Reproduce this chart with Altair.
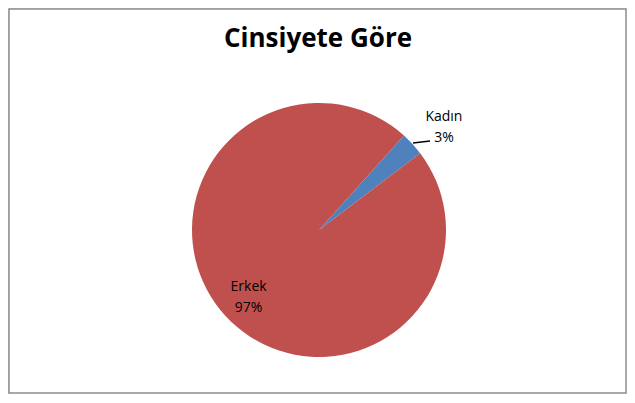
import math
import altair as alt
import pandas as pd

# Data
categories = ["Kadın", "Erkek"]
percents = [3, 97]
colors = ["#4F81BD", "#C0504D"]
title_text = "Cinsiyete Göre"

df = pd.DataFrame({"cat": categories, "pct": percents, "ord": [0, 1]})

W, H = 619, 386
CX, CY = 311, 222
R = 127
start = math.radians(42)
theta_scale = alt.Scale(domain=[0, 100], range=[start, start + 2 * math.pi])

pie = alt.Chart(df).mark_arc(radius=R, stroke=None).encode(
    theta=alt.Theta("pct:Q", stack=True, scale=theta_scale),
    order=alt.Order("ord:Q"),
    color=alt.Color("cat:N", scale=alt.Scale(domain=categories, range=colors), legend=None),
    x=alt.value(CX), y=alt.value(CY),
)

lab_base = alt.Chart(df).transform_window(
    cum="sum(pct)", sort=[alt.SortField("ord")]
).transform_calculate(
    mid="datum.cum - datum.pct / 2",
    label="datum.cat + '\\n' + datum.pct + '%'",
)

def label_layer(cat, radius, dx, dy):
    return lab_base.transform_filter(alt.datum.cat == cat).mark_text(
        radius=radius, dx=dx, dy=dy, font="Open Sans", fontSize=14,
        lineBreak="\n", lineHeight=21, color="#000000",
        baseline="alphabetic", align="center",
    ).encode(
        theta=alt.Theta("mid:Q", stack=False, scale=theta_scale),
        text="label:N", x=alt.value(CX), y=alt.value(CY),
    )

lab_k = label_layer("Kadın", 150, 14.5, -7.5)
lab_e = label_layer("Erkek", 97, 1, -4.5)

leader = alt.Chart(pd.DataFrame({"a": [0]})).mark_rule(color="#000000", strokeWidth=1.3).encode(
    x=alt.value(405), y=alt.value(135), x2=alt.value(422), y2=alt.value(133)
)

frame = alt.Chart(pd.DataFrame({"a": [0]})).mark_rect(
    fill=None, stroke="#8c8c8c", strokeWidth=1.5
).encode(x=alt.value(1), x2=alt.value(W - 1), y=alt.value(1), y2=alt.value(H - 1))

title = alt.Chart(pd.DataFrame({"t": [title_text]})).mark_text(
    font="Open Sans", fontSize=26, fontWeight="bold", color="#000000",
    align="center", baseline="alphabetic"
).encode(text="t:N", x=alt.value(310), y=alt.value(39))

chart = alt.layer(frame, pie, leader, lab_k, lab_e, title).properties(
    width=W, height=H, padding=0, autosize=alt.AutoSizeParams(type="none")
).configure_view(stroke=None).configure(background="white")

chart.save("out.html", embed_options={"renderer": "svg", "actions": False})
